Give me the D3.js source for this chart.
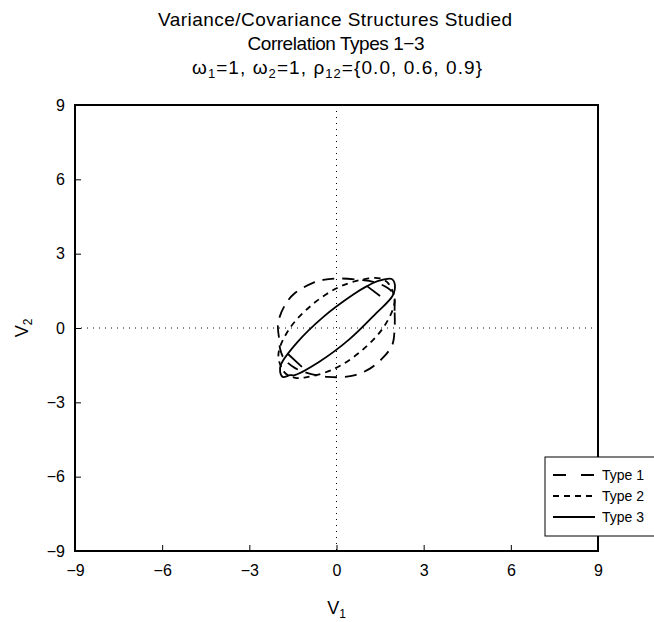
<!DOCTYPE html>
<html><head><meta charset="utf-8">
<script src="https://cdn.jsdelivr.net/npm/d3@7"></script>
<style>
body{margin:0;background:#fff}
text{font-family:"Liberation Sans",Arial,sans-serif;fill:#000}
</style>
</head><body>
<svg id="c" width="654" height="622"></svg>
<script>
// ---- data ----
const categories = ["Type 1", "Type 2", "Type 3"];
const rhoValues = ["0.0", "0.6", "0.9"];
const xTicks = [-9, -6, -3, 0, 3, 6, 9];
const yTicks = [-9, -6, -3, 0, 3, 6, 9];
const dashes = ["12,8", "6,5", null];

// Type 1 (rho = 0.0) contour
const type1V1 = [2.00, 2.00, 1.97, 1.75, 1.30, 0.70, 0.00, -0.46, -0.81, -1.43, -1.77, -2.01, -1.97, -1.94, -1.80, -1.45, -0.90, -0.30, 0.19, 0.64, 1.15, 1.60, 1.92];
const type1V2 = [0.00, 0.70, 1.35, 1.62, 1.85, 1.95, 2.00, 1.94, 1.82, 1.41, 0.93, 0.20, -0.48, -0.85, -1.25, -1.60, -1.85, -1.97, -1.98, -1.90, -1.64, -1.20, -0.68];
// Type 2 (rho = 0.6) contour
const type2V1 = [1.79, 1.50, 1.10, 0.12, -0.89, -1.67, -2.00, -1.79, -1.45, -1.10, -0.12, 0.89, 1.67, 2.00];
const type2V2 = [1.79, 2.00, 2.00, 1.67, 0.89, -0.12, -1.10, -1.79, -2.00, -2.00, -1.67, -0.89, 0.12, 1.10];
// Type 3 (rho = 0.9) contour
const type3V1 = [1.93, 2.01, 1.90, 1.47, 1.05, 0.59, -0.45, -1.36, -1.91, -1.94, -1.84, -1.60, -1.47, -0.59, 0.45, 1.36];
const type3V2 = [1.30, 1.74, 1.98, 1.91, 1.69, 1.36, 0.45, -0.59, -1.47, -1.78, -1.98, -1.90, -1.91, -1.36, -0.45, 0.59];
// small strokes inside the Type 3 contour
const type3SpurA_V1 = [1.05, 1.50];
const type3SpurA_V2 = [1.69, 1.29];
const type3SpurB_V1 = [-1.67, -1.19];
const type3SpurB_V2 = [-1.05, -1.57];

// ---- layout ----
const svg = d3.select("#c");
const L = 75, R = 598, T = 105, B = 551;
const x = d3.scaleLinear().domain([-9, 9]).range([L, R]);
const y = d3.scaleLinear().domain([-9, 9]).range([B, T]);

// title
const tt = svg.append("g");
tt.append("text").attr("x", 335).attr("y", 26).attr("text-anchor", "middle")
  .attr("font-size", 19).attr("textLength", 354).attr("lengthAdjust", "spacing")
  .text("Variance/Covariance Structures Studied");
tt.append("text").attr("x", 336).attr("y", 50).attr("text-anchor", "middle")
  .attr("font-size", 19).attr("textLength", 177).attr("lengthAdjust", "spacing")
  .text("Correlation Types 1\u22123");
const t3 = tt.append("text").attr("x", 337).attr("y", 74).attr("text-anchor", "middle")
  .attr("font-size", 19).attr("textLength", 290).attr("lengthAdjust", "spacing");
t3.append("tspan").text("\u03c9");
t3.append("tspan").attr("font-size", 13).attr("dy", 4).text("1");
t3.append("tspan").attr("dy", -4).text("=1, \u03c9");
t3.append("tspan").attr("font-size", 13).attr("dy", 4).text("2");
t3.append("tspan").attr("dy", -4).text("=1, \u03c1");
t3.append("tspan").attr("font-size", 13).attr("dy", 4).text("12");
t3.append("tspan").attr("dy", -4).text("={" + rhoValues.join(", ") + "}");

// reference lines
svg.append("line").attr("x1", x(0)).attr("x2", x(0)).attr("y1", T).attr("y2", B)
  .attr("stroke", "#000").attr("stroke-width", 1).attr("stroke-dasharray", "1,5");
svg.append("line").attr("x1", L).attr("x2", R).attr("y1", y(0)).attr("y2", y(0))
  .attr("stroke", "#000").attr("stroke-width", 1).attr("stroke-dasharray", "1,5");

// axes (inward ticks)
const xa = svg.append("g").attr("transform", `translate(0,${B})`)
  .call(d3.axisBottom(x).tickValues(xTicks).tickSizeInner(-6).tickSizeOuter(0).tickPadding(14)
    .tickFormat(d => d < 0 ? "\u2212" + Math.abs(d) : d));
const ya = svg.append("g").attr("transform", `translate(${L},0)`)
  .call(d3.axisLeft(y).tickValues(yTicks).tickSizeInner(-6).tickSizeOuter(0).tickPadding(10)
    .tickFormat(d => d < 0 ? "\u2212" + Math.abs(d) : d));
[xa, ya].forEach(g => {
  g.select(".domain").remove();
  g.selectAll("line").attr("stroke", "#000").attr("stroke-width", 1);
  g.selectAll("text").attr("font-size", 16).attr("font-family", "Liberation Sans, Arial, sans-serif").attr("fill", "#000");
});

// frame
svg.append("rect").attr("x", L).attr("y", T).attr("width", R - L).attr("height", B - T)
  .attr("fill", "none").attr("stroke", "#000").attr("stroke-width", 2);

// axis labels
const xl = svg.append("text").attr("x", x(0)).attr("y", 614).attr("text-anchor", "middle").attr("font-size", 18);
xl.append("tspan").text("V");
xl.append("tspan").attr("font-size", 12).attr("dy", 4).text("1");
const yl = svg.append("text").attr("transform", `translate(28,${y(0)}) rotate(-90)`).attr("text-anchor", "middle").attr("font-size", 18);
yl.append("tspan").text("V");
yl.append("tspan").attr("font-size", 12).attr("dy", 4).text("2");

// contours
const pts = (a, b) => a.map((v, i) => [v, b[i]]);
const closed = d3.line().x(d => x(d[0])).y(d => y(d[1])).curve(d3.curveCatmullRomClosed);
const open = d3.line().x(d => x(d[0])).y(d => y(d[1]));
const series = [pts(type1V1, type1V2), pts(type2V1, type2V2), pts(type3V1, type3V2)];
series.forEach((s, i) => {
  svg.append("path").attr("d", closed(s)).attr("fill", "none").attr("stroke", "#000")
    .attr("stroke-width", 1.8).attr("stroke-dasharray", dashes[i]);
});
[pts(type3SpurA_V1, type3SpurA_V2), pts(type3SpurB_V1, type3SpurB_V2)].forEach(s => {
  svg.append("path").attr("d", open(s)).attr("fill", "none").attr("stroke", "#000").attr("stroke-width", 1.8);
});

// legend
const lg = svg.append("g");
lg.append("rect").attr("x", 545).attr("y", 457).attr("width", 130).attr("height", 79)
  .attr("fill", "#fff").attr("stroke", "#000").attr("stroke-width", 1);
categories.forEach((c, i) => {
  const yy = 475 + i * 21;
  lg.append("line").attr("x1", 553).attr("x2", 595).attr("y1", yy).attr("y2", yy)
    .attr("stroke", "#000").attr("stroke-width", 1.8).attr("stroke-dasharray", i === 0 ? "13,15" : dashes[i]);
  lg.append("text").attr("x", 602).attr("y", yy + 5).attr("font-size", 14).text(c);
});
</script>
</body></html>
